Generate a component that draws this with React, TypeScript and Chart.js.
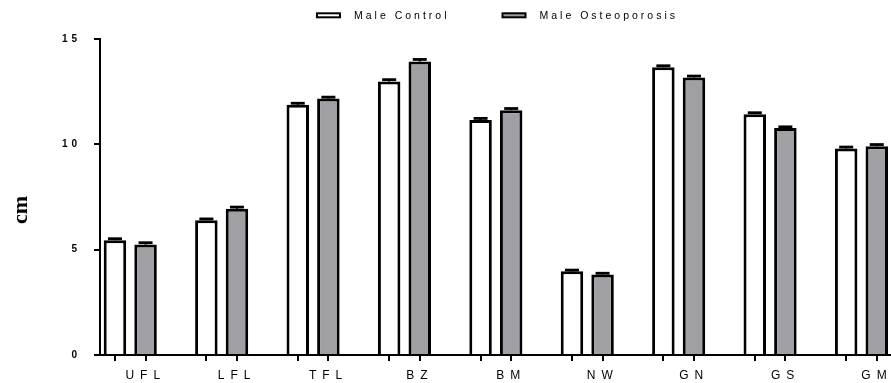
import React, { useEffect, useRef } from 'react';
import { Chart, registerables } from 'chart.js';

Chart.register(...registerables);

const categories = ['UFL', 'LFL', 'TFL', 'BZ', 'BM', 'NW', 'GN', 'GS', 'GM'];
const seriesNames = ['Male Control', 'Male Osteoporosis'];
const maleControl = [5.45, 6.4, 11.88, 12.98, 11.16, 3.97, 13.66, 11.43, 9.8];
const maleOsteoporosis = [5.24, 6.94, 12.17, 13.93, 11.62, 3.82, 13.17, 10.77, 9.91];
const maleControlErr = [0.07, 0.06, 0.07, 0.09, 0.07, 0.06, 0.07, 0.07, 0.07];
const maleOsteoporosisErr = [0.09, 0.08, 0.07, 0.1, 0.08, 0.06, 0.07, 0.06, 0.08];
const yTicks = [0, 5, 10, 15];
const yTitle = 'cm';

const FONT = '"Liberation Sans", Arial, Helvetica, sans-serif';
const SERIF = '"Liberation Serif", "Times New Roman", serif';

export default function App() {
  const ref = useRef<HTMLCanvasElement>(null);

  useEffect(() => {
    document.body.style.margin = '0';
    const canvas = ref.current;
    if (!canvas) return;
    const errs = [maleControlErr, maleOsteoporosisErr];

    const withSpacing = (chart: any, obj: any, key: string, sp: string) => {
      if (!obj) return;
      if (obj.__ls && obj.__ls[key]) return;
      const orig = obj[key];
      obj[key] = function (...args: any[]) {
        const ctx: any = chart.ctx;
        const prev = ctx.letterSpacing;
        ctx.letterSpacing = sp;
        try {
          return orig.apply(this, args);
        } finally {
          ctx.letterSpacing = prev;
        }
      };
      obj.__ls = { ...(obj.__ls || {}), [key]: true };
    };

    const decor = {
      id: 'decor',
      beforeDraw(chart: any) {
        withSpacing(chart, chart.scales.x, 'drawLabels', '6px');
        withSpacing(chart, chart.scales.y, 'drawLabels', '4px');
      },
      afterDatasetsDraw(chart: any) {
        const ctx = chart.ctx;
        const ys = chart.scales.y;
        ctx.save();
        ctx.strokeStyle = '#000';
        chart.data.datasets.forEach((ds: any, i: number) => {
          const meta = chart.getDatasetMeta(i);
          meta.data.forEach((el: any, j: number) => {
            const v = ds.data[j].y;
            const top = ys.getPixelForValue(v + errs[i][j]);
            ctx.lineWidth = 2;
            ctx.beginPath();
            ctx.moveTo(el.x, el.y);
            ctx.lineTo(el.x, top);
            ctx.stroke();
            ctx.lineWidth = 2.8;
            ctx.beginPath();
            ctx.moveTo(el.x - 7, top);
            ctx.lineTo(el.x + 7, top);
            ctx.stroke();
          });
        });
        ctx.restore();
      },
      afterDraw(chart: any) {
        const ctx: any = chart.ctx;
        const area = chart.chartArea;
        // x tick marks under every bar
        ctx.save();
        ctx.strokeStyle = '#000';
        ctx.lineWidth = 2;
        chart.data.datasets.forEach((_ds: any, i: number) => {
          chart.getDatasetMeta(i).data.forEach((el: any) => {
            const x = Math.round(el.x);
            ctx.beginPath();
            ctx.moveTo(x, area.bottom);
            ctx.lineTo(x, area.bottom + 6);
            ctx.stroke();
          });
        });
        ctx.restore();

        // legend
        ctx.save();
        const ls = 3;
        ctx.font = `10.5px ${FONT}`;
        ctx.letterSpacing = ls + 'px';
        const boxW = 25, boxH = 6, gapBT = 13, gapItems = 55 - ls;
        const items = chart.data.datasets.map((ds: any) => ({
          text: ds.label,
          fill: ds.backgroundColor,
          tw: ctx.measureText(ds.label).width,
        }));
        const total = items.reduce((s: number, it: any) => s + boxW + gapBT + it.tw, 0) + gapItems * (items.length - 1) - ls;
        let x = (area.left + area.right) / 2 - total / 2;
        const cy = 15.3;
        items.forEach((it: any) => {
          ctx.fillStyle = it.fill;
          ctx.fillRect(x + 1, cy - boxH / 2 + 1, boxW - 2, boxH - 2);
          ctx.lineWidth = 2;
          ctx.strokeStyle = '#000';
          ctx.strokeRect(x + 1, cy - boxH / 2 + 1, boxW - 2, boxH - 2);
          ctx.fillStyle = '#000';
          ctx.textBaseline = 'middle';
          ctx.textAlign = 'left';
          ctx.fillText(it.text, x + boxW + gapBT, cy + 0.6);
          x += boxW + gapBT + it.tw + gapItems;
        });
        ctx.restore();

        // y axis title
        ctx.save();
        ctx.letterSpacing = '0px';
        ctx.translate(21, 210);
        ctx.rotate(-Math.PI / 2);
        ctx.font = `bold 22px ${SERIF}`;
        ctx.fillStyle = '#000';
        ctx.textAlign = 'center';
        ctx.textBaseline = 'middle';
        ctx.fillText(yTitle, 0, 0);
        ctx.restore();
      },
    };

    const chart = new Chart(canvas, {
      type: 'bar',
      data: {
        datasets: [
          {
            label: seriesNames[0],
            data: categories.map((_c, i) => ({ x: i, y: maleControl[i] })),
            backgroundColor: '#ffffff',
            borderColor: '#000000',
            borderWidth: 3,
            categoryPercentage: 0.6696,
            barPercentage: 0.735,
          },
          {
            label: seriesNames[1],
            data: categories.map((_c, i) => ({ x: i, y: maleOsteoporosis[i] })),
            backgroundColor: '#a0a0a4',
            borderColor: '#000000',
            borderWidth: 3,
            categoryPercentage: 0.6696,
            barPercentage: 0.735,
          },
        ],
      } as any,
      options: {
        animation: false,
        responsive: false,
        events: [],
        layout: { padding: { top: 39, left: 0, right: 0, bottom: 0 } },
        plugins: { legend: { display: false }, tooltip: { enabled: false } },
        scales: {
          x: {
            type: 'linear',
            min: -0.331,
            max: 8.323,
            offset: false,
            afterBuildTicks: (s: any) => {
              s.ticks = categories.map((_c, i) => ({ value: i }));
            },
            afterFit: (s: any) => {
              s.height = 28;
            },
            grid: { display: false },
            border: { display: true, color: '#000', width: 2 },
            ticks: {
              autoSkip: false,
              maxRotation: 0,
              minRotation: 0,
              padding: 5,
              labelOffset: 15.5,
              color: '#000',
              font: { size: 12, family: FONT },
              callback: (v: any) => categories[v] ?? '',
            },
          },
          y: {
            min: 0,
            max: 15,
            afterBuildTicks: (s: any) => {
              s.ticks = yTicks.map((v) => ({ value: v }));
            },
            afterFit: (s: any) => {
              s.width = 100;
            },
            grid: { drawOnChartArea: false, drawTicks: true, tickLength: 6, color: '#000', lineWidth: 2 },
            border: { display: true, color: '#000', width: 2 },
            ticks: {
              padding: 13,
              color: '#000',
              font: { size: 10, weight: 'bold', family: FONT },
            },
          },
        },
      } as any,
      plugins: [decor],
    });

    return () => {
      chart.destroy();
    };
  }, []);

  return (
    <canvas ref={ref} width={891} height={383} style={{ display: 'block', width: 891, height: 383 }} />
  );
}
